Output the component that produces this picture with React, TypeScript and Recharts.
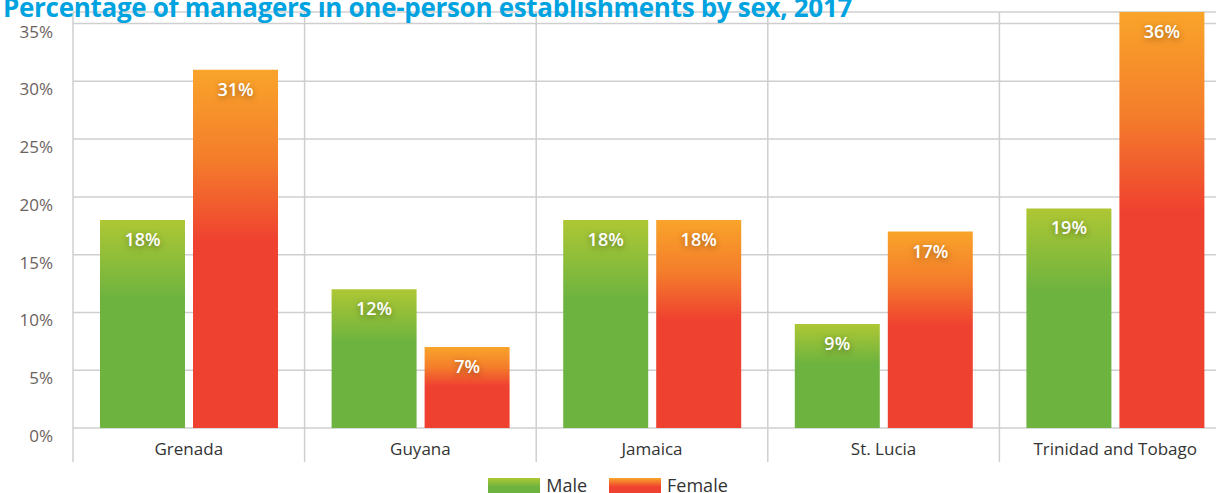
import React from 'react';
import { BarChart, Bar, XAxis, YAxis, CartesianGrid, LabelList } from 'recharts';

const categories = ['Grenada', 'Guyana', 'Jamaica', 'St. Lucia', 'Trinidad and Tobago'];
const maleValues = [18, 12, 18, 9, 19];
const femaleValues = [31, 7, 18, 17, 36];
const yTicks = [0, 5, 10, 15, 20, 25, 30, 35];
const seriesNames = ['Male', 'Female'];

const data = categories.map((country, i) => ({
  country,
  male: maleValues[i],
  female: femaleValues[i],
}));

const CHART_W = 1231;
const CHART_H = 470;
const PLOT_LEFT = 73;
const PLOT_TOP = 12;
const PLOT_BOTTOM = 428;
const BAND = (CHART_W - PLOT_LEFT) / categories.length;
const FONT = '"Open Sans", sans-serif';
const GRID = '#cfcfcf';

const XTick = (props: any) => {
  const { x, payload } = props;
  const lx = x - BAND / 2;
  return (
    <g>
      <line x1={lx} x2={lx} y1={PLOT_TOP} y2={PLOT_BOTTOM + 34} stroke={GRID} strokeWidth={1.5} />
      <text x={x} y={PLOT_BOTTOM + 27} textAnchor="middle" fontSize={17} fill="#333" fontFamily={FONT}>
        {payload.value}
      </text>
    </g>
  );
};

const YTick = (props: any) => {
  const { y, payload } = props;
  return (
    <text x={53} y={y + 14} textAnchor="end" fontSize={17} fill="#6b625e" fontFamily={FONT}>
      {payload.value}%
    </text>
  );
};

const ValueLabel = (props: any) => {
  const { x, y, width, value } = props;
  return (
    <text
      x={x + width / 2}
      y={y + 26}
      textAnchor="middle"
      fontSize={18}
      fontWeight={600}
      fill="#fff"
      fontFamily={FONT}
      style={{ textShadow: '0 2px 6px rgba(0,0,0,0.35)' }}
    >
      {value}%
    </text>
  );
};

const swatches = [
  'linear-gradient(#aec734, #6db33f 60%)',
  'linear-gradient(#f9a42a, #ef4130 60%)',
];

export default function App() {
  return (
    <div
      style={{
        position: 'fixed',
        left: 0,
        top: 0,
        width: 1216,
        height: 493,
        overflow: 'hidden',
        background: '#fff',
        fontFamily: FONT,
      }}
    >
      <BarChart
        width={CHART_W}
        height={CHART_H}
        data={data}
        margin={{ top: PLOT_TOP, right: 0, left: 0, bottom: 0 }}
        barSize={85}
        barGap={8}
      >
        <defs>
          <linearGradient id="maleGrad" x1="0" y1="0" x2="0" y2="1">
            <stop offset="0" stopColor="#aec734" />
            <stop offset="0.38" stopColor="#6db33f" />
            <stop offset="1" stopColor="#6db33f" />
          </linearGradient>
          <linearGradient id="femaleGrad" x1="0" y1="0" x2="0" y2="1">
            <stop offset="0" stopColor="#f9a42a" />
            <stop offset="0.25" stopColor="#f47d2b" />
            <stop offset="0.48" stopColor="#ef4130" />
            <stop offset="1" stopColor="#ef4130" />
          </linearGradient>
        </defs>
        <CartesianGrid vertical={false} stroke={GRID} strokeWidth={1.5} />
        <XAxis
          dataKey="country"
          height={CHART_H - PLOT_BOTTOM}
          axisLine={false}
          tickLine={false}
          tickSize={0}
          interval={0}
          tick={<XTick />}
        />
        <YAxis
          width={PLOT_LEFT}
          domain={[0, 36]}
          ticks={yTicks}
          axisLine={false}
          tickLine={false}
          tick={<YTick />}
        />
        <Bar dataKey="male" name={seriesNames[0]} fill="url(#maleGrad)" isAnimationActive={false}>
          <LabelList dataKey="male" content={<ValueLabel />} />
        </Bar>
        <Bar dataKey="female" name={seriesNames[1]} fill="url(#femaleGrad)" isAnimationActive={false}>
          <LabelList dataKey="female" content={<ValueLabel />} />
        </Bar>
      </BarChart>

      <div
        style={{
          position: 'absolute',
          left: 3,
          top: -6,
          fontSize: 26,
          lineHeight: '26px',
          fontWeight: 700,
          color: '#00a3e0',
          whiteSpace: 'nowrap',
          letterSpacing: -0.3,
        }}
      >
        Percentage of managers in one-person establishments by sex, 2017
      </div>

      <div
        style={{
          position: 'absolute',
          left: 0,
          width: 1216,
          top: 474,
          display: 'flex',
          justifyContent: 'center',
          alignItems: 'center',
          fontSize: 18,
          color: '#333',
        }}
      >
        {seriesNames.map((name, i) => (
          <div key={name} style={{ display: 'flex', alignItems: 'center', marginRight: i === 0 ? 22 : 0 }}>
            <span style={{ display: 'inline-block', width: 52, height: 15, background: swatches[i], marginRight: 6 }} />
            <span style={{ lineHeight: '22px' }}>{name}</span>
          </div>
        ))}
      </div>
    </div>
  );
}
